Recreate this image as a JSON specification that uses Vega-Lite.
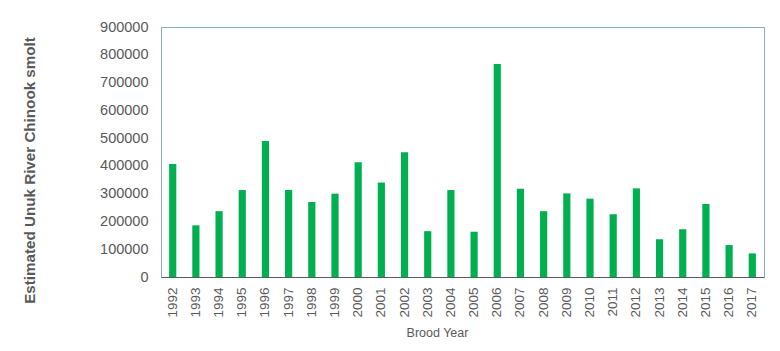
{
  "$schema": "https://vega.github.io/schema/vega-lite/v6.json",
  "autosize": "none",
  "width": 603,
  "height": 250,
  "padding": {"left": 161, "top": 27, "right": 16, "bottom": 74},
  "background": "white",
  "config": {
    "font": "Liberation Sans",
    "view": {"stroke": "#8eacbf", "strokeWidth": 1}
  },
  "data": {
    "values": [
      {"year": "1992", "smolt": 407000},
      {"year": "1993", "smolt": 186000},
      {"year": "1994", "smolt": 237000},
      {"year": "1995", "smolt": 313000},
      {"year": "1996", "smolt": 490000},
      {"year": "1997", "smolt": 313000},
      {"year": "1998", "smolt": 270000},
      {"year": "1999", "smolt": 300000},
      {"year": "2000", "smolt": 413000},
      {"year": "2001", "smolt": 340000},
      {"year": "2002", "smolt": 449000},
      {"year": "2003", "smolt": 165000},
      {"year": "2004", "smolt": 313000},
      {"year": "2005", "smolt": 163000},
      {"year": "2006", "smolt": 767000},
      {"year": "2007", "smolt": 318000},
      {"year": "2008", "smolt": 237000},
      {"year": "2009", "smolt": 301000},
      {"year": "2010", "smolt": 282000},
      {"year": "2011", "smolt": 226000},
      {"year": "2012", "smolt": 319000},
      {"year": "2013", "smolt": 136000},
      {"year": "2014", "smolt": 172000},
      {"year": "2015", "smolt": 263000},
      {"year": "2016", "smolt": 115000},
      {"year": "2017", "smolt": 85000}
    ]
  },
  "mark": {"type": "bar", "color": "#00b050"},
  "encoding": {
    "x": {
      "field": "year",
      "type": "ordinal",
      "title": "Brood Year",
      "scale": {"paddingInner": 0.69, "paddingOuter": 0.35},
      "axis": {
        "labelAngle": -90,
        "labelFontSize": 13.5,
        "labelColor": "#595959",
        "labelPadding": 10,
        "ticks": false,
        "domainColor": "#595959",
        "domainWidth": 1,
        "titleFontSize": 12.5,
        "titleFontWeight": "normal",
        "titleColor": "#595959",
        "titlePadding": 9,
        "titleX": 276,
        "titleAlign": "center",
        "titleAnchor": "start"
      }
    },
    "y": {
      "field": "smolt",
      "type": "quantitative",
      "title": "Estimated Unuk River Chinook smolt",
      "scale": {"domain": [0, 900000]},
      "axis": {
        "values": [0, 100000, 200000, 300000, 400000, 500000, 600000, 700000, 800000, 900000],
        "format": "d",
        "grid": false,
        "ticks": false,
        "domain": false,
        "labelFontSize": 14.5,
        "labelColor": "#595959",
        "labelPadding": 13,
        "titleFontSize": 15.2,
        "titleFontWeight": "bold",
        "titleColor": "#595959",
        "titlePadding": 62,
        "titleY": 143,
        "titleAlign": "center",
        "titleAnchor": "start"
      }
    }
  }
}
